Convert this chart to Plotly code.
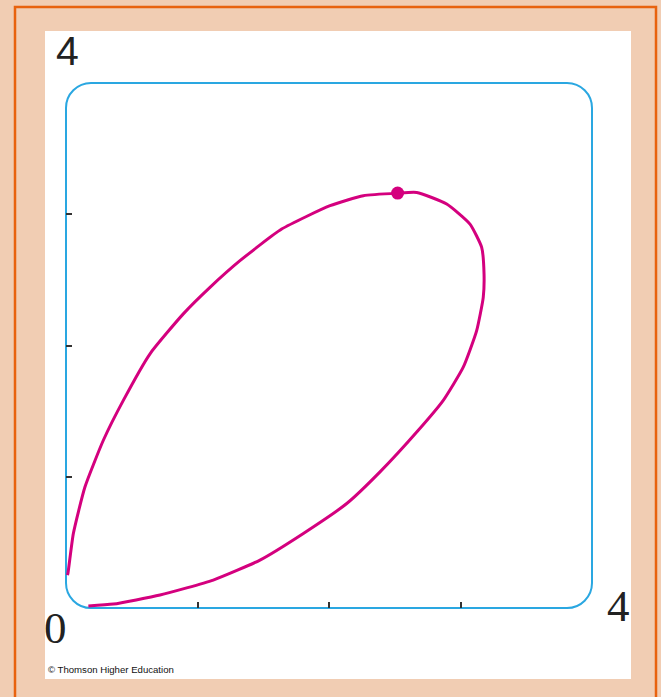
import plotly.graph_objects as go

# ---- data ----
curve_x = [0.011, 0.015, 0.056, 0.144, 0.284, 0.436, 0.639, 0.892, 1.095, 1.323, 1.640,
           2.008, 2.261, 2.522, 2.667, 2.895, 3.072, 3.161, 3.179, 3.173, 3.123, 3.021,
           2.869, 2.679, 2.388, 2.135, 1.805, 1.475, 1.120, 0.715, 0.360, 0.170]
curve_y = [0.251, 0.266, 0.568, 0.922, 1.278, 1.582, 1.937, 2.241, 2.443, 2.646, 2.887,
           3.065, 3.141, 3.161, 3.166, 3.078, 2.925, 2.748, 2.545, 2.367, 2.114, 1.835,
           1.582, 1.354, 1.037, 0.796, 0.568, 0.365, 0.213, 0.099, 0.030, 0.015]
dot_x = [2.522]
dot_y = [3.161]
tick_vals = [1, 2, 3]
axis_range = [0, 4]

W, H = 661, 697
L, R, T, B = 66, 592, 83, 608  # plot area in pixels


def px(x):
    return (x - L) / (R - L)


def py(y):
    return (B - y) / (B - T)


MAGENTA = "#D4007E"
BLUE = "#2AA7E1"

fig = go.Figure()
fig.add_trace(go.Scatter(x=curve_x, y=curve_y, mode="lines",
                         line=dict(color=MAGENTA, width=3, shape="spline", smoothing=0.5),
                         hoverinfo="skip"))
fig.add_trace(go.Scatter(x=dot_x, y=dot_y, mode="markers",
                         marker=dict(color=MAGENTA, size=13), hoverinfo="skip"))

# rounded frame (paper coordinates so it is not clipped)
rad = 25  # px
kx = 0.5523 * rad
x0p, x1p, y0p, y1p = px(L), px(R), py(B), py(T)
rx, ry = rad / (R - L), rad / (B - T)
kxp, kyp = kx / (R - L), kx / (B - T)
path = (f"M {x0p+rx},{y0p} L {x1p-rx},{y0p} C {x1p-rx+kxp},{y0p} {x1p},{y0p+ry-kyp} {x1p},{y0p+ry} "
        f"L {x1p},{y1p-ry} C {x1p},{y1p-ry+kyp} {x1p-rx+kxp},{y1p} {x1p-rx},{y1p} "
        f"L {x0p+rx},{y1p} C {x0p+rx-kxp},{y1p} {x0p},{y1p-ry+kyp} {x0p},{y1p-ry} "
        f"L {x0p},{y0p+ry} C {x0p},{y0p+ry-kyp} {x0p+rx-kxp},{y0p} {x0p+rx},{y0p} Z")

shapes = [
    # white panel
    dict(type="rect", xref="paper", yref="paper", x0=px(45), x1=px(631), y0=py(679), y1=py(31),
         fillcolor="white", line=dict(width=0), layer="below"),
    # orange border
    dict(type="rect", xref="paper", yref="paper", x0=px(15), x1=px(656), y0=py(730), y1=py(7),
         fillcolor="rgba(0,0,0,0)", line=dict(color="#E8620E", width=2.5), layer="below"),
    dict(type="path", xref="paper", yref="paper", path=path,
         line=dict(color=BLUE, width=2), layer="below"),
]

annotations = [
    dict(text="4", xref="paper", yref="paper", x=px(54), y=py(51), xanchor="left", yanchor="middle",
         showarrow=False, font=dict(family="Liberation Sans Narrow, Liberation Sans, Arial", size=41, color="#222")),
    dict(text="0", xref="paper", yref="paper", x=px(42), y=py(628), xanchor="left", yanchor="middle",
         showarrow=False, font=dict(family="Liberation Serif, Times New Roman, serif", size=45, color="#222")),
    dict(text="4", xref="paper", yref="paper", x=px(605), y=py(606), xanchor="left", yanchor="middle",
         showarrow=False, font=dict(family="Liberation Serif, Times New Roman, serif", size=45, color="#222")),
    dict(text="© Thomson Higher Education", xref="paper", yref="paper", x=px(46), y=py(669),
         xanchor="left", yanchor="middle", showarrow=False,
         font=dict(family="Liberation Sans, Arial", size=9.6, color="#111")),
]

axis_common = dict(range=axis_range, showgrid=False, zeroline=False, showline=False,
                   tickvals=tick_vals, ticks="inside", ticklen=6, tickwidth=2,
                   tickcolor="#333", showticklabels=False, fixedrange=True)

fig.update_layout(
    width=W, height=H,
    margin=dict(l=L, r=W - R, t=T, b=H - B, pad=0),
    paper_bgcolor="#F1CDB3",
    plot_bgcolor="white",
    showlegend=False,
    shapes=shapes,
    annotations=annotations,
    xaxis=axis_common,
    yaxis=axis_common,
)

fig.write_html("out.html", config={"displayModeBar": False},
               post_script="document.body.style.margin='0px';document.body.style.padding='0px';")
